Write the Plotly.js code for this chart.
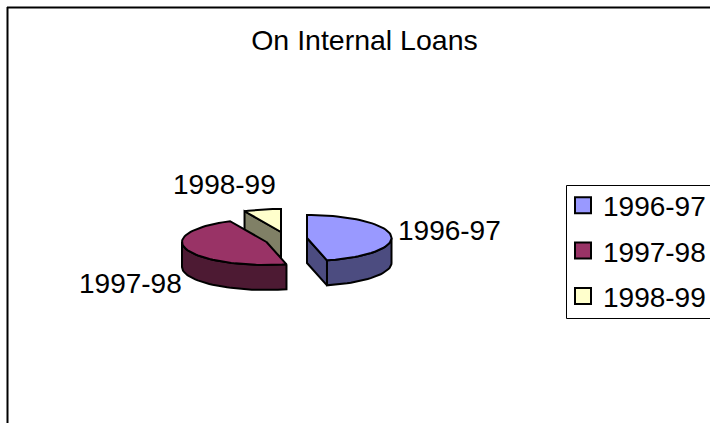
<!DOCTYPE html>
<html><head><meta charset="utf-8">
<script src="https://cdn.plot.ly/plotly-3.0.1.min.js"></script>
<style>html,body{margin:0;padding:0;background:#fff;overflow:hidden}#c{width:730px;height:423px}</style>
</head><body><div id="c"></div><script>
const categories = ['1996-97', '1997-98', '1998-99'];
const values = [46.2, 46.7, 7.1];
const topColors = ['#9999FF', '#993366', '#FFFFCC'];
const sideColors = ['#4C4C80', '#4D1A33', '#808066'];
const centerX = [307, 266.5, 281];
const centerY = [238, 242, 232];
const labelX = [449, 130, 224];
const labelY = [230, 283, 184];
const RX = 84.5, RY = 23, DEPTH = 25, FONT = 'Liberation Sans, Arial, sans-serif';
const W = 730, H = 423;

const total = values.reduce((a, b) => a + b, 0);
let acc = 0;
const slices = values.map((v, i) => { const s = { i, a: acc, b: acc + v / total * 360 }; acc = s.b; return s; });
const pt = (i, t, dz) => { const r = t * Math.PI / 180; return [centerX[i] + RX * Math.sin(r), centerY[i] - RY * Math.cos(r) + dz]; };
const arc = (i, a, b, dz) => { const n = Math.max(2, Math.ceil(Math.abs(b - a) / 3)); const o = []; for (let k = 0; k <= n; k++) o.push(pt(i, a + (b - a) * k / n, dz)); return o; };
const face = (p, color) => ({ type: 'scatter', mode: 'lines', x: p.map(q => q[0]).concat(p[0][0]), y: p.map(q => q[1]).concat(p[0][1]), fill: 'toself', fillcolor: color, line: { color: '#000', width: 2 }, showlegend: false, hoverinfo: 'skip' });
const c = i => [centerX[i], centerY[i]];
const cd = i => [centerX[i], centerY[i] + DEPTH];
const traces = [];
[slices[2], slices[1], slices[0]].forEach(s => {
  const i = s.i;
  if (s.a > 270) traces.push(face([c(i), pt(i, s.a, 0), pt(i, s.a, DEPTH), cd(i)], sideColors[i]));
  if (s.b > 90 && s.b < 180) traces.push(face([c(i), pt(i, s.b, 0), pt(i, s.b, DEPTH), cd(i)], sideColors[i]));
  const lo = Math.max(s.a, 90), hi = Math.min(s.b, 270);
  if (hi > lo) traces.push(face(arc(i, lo, hi, 0).concat(arc(i, hi, lo, DEPTH)), sideColors[i]));
  traces.push(face([c(i)].concat(arc(i, s.a, s.b, 0)), topColors[i]));
});
categories.forEach((name, i) => traces.push({ type: 'scatter', mode: 'markers', x: [null], y: [null], name, legendgroup: name, marker: { symbol: 'square', size: 16, color: topColors[i], line: { color: '#000', width: 2 } }, hoverinfo: 'skip' }));

const axis = r => ({ range: r, visible: false, fixedrange: true });
Plotly.newPlot('c', traces, {
  width: W, height: H, margin: { l: 0, r: 0, t: 0, b: 0 }, paper_bgcolor: '#fff', plot_bgcolor: '#fff',
  xaxis: axis([0, W]), yaxis: axis([H, 0]),
  title: { text: 'On Internal Loans', x: 364.5 / W, xanchor: 'center', y: 1 - 40 / H, yanchor: 'middle', font: { family: FONT, size: 28.5, color: '#000' } },
  legend: { x: 563 / W, xanchor: 'left', y: 1 - 180.5 / H, yanchor: 'top', bgcolor: 'rgba(0,0,0,0)', borderwidth: 0, font: { family: FONT, size: 28, color: '#000' }, tracegroupgap: 6, itemwidth: 30 },
  shapes: [
    { type: 'line', xref: 'x', yref: 'y', x0: 7.5, x1: 7.5, y0: H, y1: 7, line: { color: '#000', width: 2 } },
    { type: 'line', xref: 'x', yref: 'y', x0: 7, x1: W, y0: 7.5, y1: 7.5, line: { color: '#000', width: 2 } },
    { type: 'rect', xref: 'x', yref: 'y', x0: 566.5, x1: W + 5, y0: 185.5, y1: 318.5, fillcolor: '#fff', line: { color: '#000', width: 1 }, layer: 'below' }
  ],
  annotations: categories.map((name, i) => ({ text: name, x: labelX[i], y: labelY[i], xref: 'x', yref: 'y', showarrow: false, xanchor: 'center', yanchor: 'middle', font: { family: FONT, size: 28, color: '#000' } }))
}, { displayModeBar: false, staticPlot: true });
</script></body></html>
